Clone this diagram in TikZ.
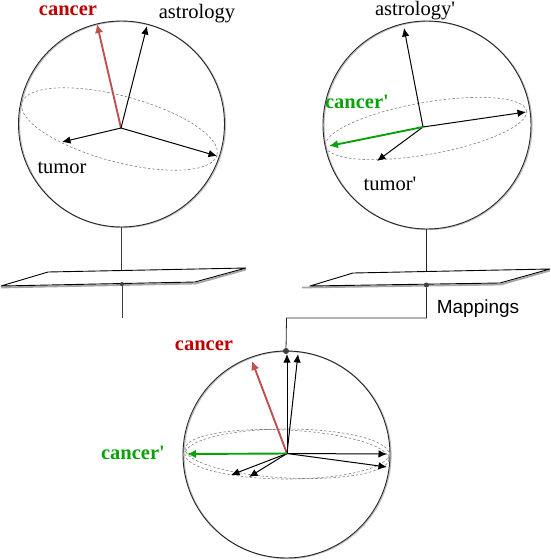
\documentclass[tikz,border=0pt]{standalone}
\usepackage{fontspec}
\newfontfamily\serifx{Liberation Serif}
\newfontfamily\sansx{Liberation Sans}
\usetikzlibrary{arrows.meta}
\definecolor{cred}{RGB}{190,0,0}
\definecolor{cgreen}{RGB}{10,160,10}
\definecolor{redarrow}{RGB}{190,80,80}
\tikzset{
  x=1pt,y=-1pt,
  ball/.style={draw=black!85,line width=0.9pt},
  ballshadow/.style={draw=black!25,line width=1.2pt},
  equator/.style={draw=black!50,line width=0.6pt,dash pattern=on 2.5pt off 2pt},
  vec/.style={draw=black,line width=1pt,-{Latex[length=8.5pt,width=7.5pt]}},
  redvec/.style={draw=redarrow,line width=1.9pt,-{Latex[length=9pt,width=8.5pt]}},
  greenvec/.style={draw=cgreen,line width=1.9pt,-{Latex[length=9pt,width=8.5pt]}},
  stem/.style={draw=black!75,line width=0.8pt},
  plane/.style={draw=black,fill=white,line width=0.9pt,line join=round},
  planeshadow/.style={draw=black!35,line width=1.8pt},
  hub/.style={circle,fill=black!75,inner sep=0pt,minimum size=5pt},
  word/.style={font=\serifx\fontsize{20.5}{22}\selectfont,inner sep=0pt},
  boldword/.style={font=\serifx\bfseries\fontsize{20.5}{22}\selectfont,inner sep=0pt},
}
\begin{document}
\begin{tikzpicture}
\useasboundingbox (0,0) rectangle (550,560);
% ---- key points
\coordinate (o1) at (121,128);
\coordinate (o2) at (423,127);
\coordinate (o3) at (287,453.5);
\coordinate (a1) at (97,24);
\coordinate (a2) at (147,26);
\coordinate (a3) at (62,142);
\coordinate (a4) at (217,156);
\coordinate (b1) at (404,28);
\coordinate (b2) at (526,112);
\coordinate (b3) at (377,161);
\coordinate (b4) at (329,146);
\coordinate (c1) at (252,361);
\coordinate (c2) at (287,354);
\coordinate (c3) at (298,354);
\coordinate (c4) at (187,454);
\coordinate (c5) at (387,454);
\coordinate (c6) at (387,467);
\coordinate (c7) at (231,475);
\coordinate (c8) at (249,477);
% ---- first sphere
\draw[ballshadow] (122.5,124.5) circle[radius=103];
\draw[ball] (121.5,124) circle[radius=103];
\draw[equator,rotate around={-15:(119.5,129)}] (119.5,129) ellipse[x radius=101,y radius=33];
\draw[redvec] (o1) -- (a1);
\draw[vec] (o1) -- (a2);
\draw[vec] (o1) -- (a3);
\draw[vec] (o1) -- (a4);
% ---- second sphere
\draw[ballshadow] (428,125.5) circle[radius=104];
\draw[ball] (427,125) circle[radius=104];
\draw[equator,rotate around={10:(426,128.5)}] (426,128.5) ellipse[x radius=102,y radius=26];
\draw[vec] (o2) -- (b1);
\draw[vec] (o2) -- (b2);
\draw[vec] (o2) -- (b3);
\draw[greenvec] (o2) -- (b4);
% ---- third sphere
\draw[ballshadow] (287.5,455) circle[radius=103.5];
\draw[ball] (286.5,454.5) circle[radius=103.5];
\draw[equator] (287,454) ellipse[x radius=102,y radius=25];
\draw[equator,rotate around={-3:(287,454)}] (287,454) ellipse[x radius=102,y radius=24];
\draw[redvec] (o3) -- (c1);
\draw[vec] (o3) -- (c2);
\draw[vec] (o3) -- (c3);
\draw[vec] (o3) -- (c5);
\draw[vec] (o3) -- (c6);
\draw[vec] (o3) -- (c7);
\draw[vec] (o3) -- (c8);
\draw[greenvec] (o3) -- (c4);
% ---- planes
\coordinate (p1) at (1,286);
\coordinate (p2) at (48,272);
\coordinate (p3) at (246,268);
\coordinate (p4) at (195,282);
\coordinate (q1) at (310,286);
\coordinate (q2) at (353,273);
\coordinate (q3) at (550,269);
\coordinate (q4) at (500,283);
\draw[planeshadow] (1,287.5) -- (196,283.5) -- (246,269.5);
\draw[planeshadow] (302,287.5) -- (501,284.5) -- (550,270.5);
\draw[plane] (p1) -- (p2) -- (p3) -- (p4) -- cycle;
\draw[plane] (q1) -- (q2) -- (q3) -- (q4) -- cycle;
% ---- stems
\node[hub,minimum size=4pt] (h1) at (122,284) {};
\node[hub] (h2) at (426.5,285) {};
\node[hub,minimum size=6pt] (h3) at (286,351) {};
\coordinate (t1) at (121.5,227);
\coordinate (t1b) at (121.5,270);
\coordinate (e1) at (122,318);
\coordinate (t2) at (426.5,229);
\coordinate (t2b) at (426.5,271);
\coordinate (k1) at (426.5,318);
\coordinate (k2) at (286.5,318);
\draw[stem] (t1) -- (t1b);
\draw[stem] (h1) -- (e1);
\draw[stem,black!85] (t2) -- (t2b);
\draw[stem,black!85] (h2) -- (k1) -- (k2) -- (h3);
% ---- labels
\node[boldword,text=cred] (l1) at (68,11) {cancer};
\node[word] (l2) at (197,14) {astrology};
\node[word] (l3) at (62,168) {tumor};
\node[word] (l4) at (415,10.5) {astrology'};
\node[boldword,text=cgreen] (l5) at (357,102) {cancer'};
\node[word] (l6) at (390,184) {tumor'};
\node[font=\sansx\fontsize{19}{21}\selectfont,inner sep=0pt] (l7) at (478,309) {Mappings};
\node[boldword,text=cred] (l8) at (204,346) {cancer};
\node[boldword,text=cgreen] (l9) at (133,453) {cancer'};
\end{tikzpicture}
\end{document}
